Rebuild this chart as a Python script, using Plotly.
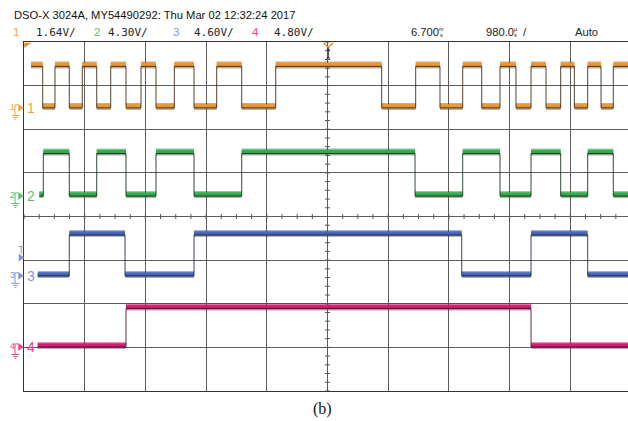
import plotly.graph_objects as go

# ---------------- data ----------------
T_CENTER_MS = 6.700        # horizontal delay (ms)
T_PER_DIV_MS = 0.980       # 980.0 us / div
ch_names = ["1", "2", "3", "4"]
volts_per_div = [1.64, 4.30, 4.60, 4.80]
ch_low_v = [0.0, 0.0, 0.0, 0.0]
ch_high_v = [1.56, 4.19, 4.32, 4.24]
ch_start_ms = [1.913, 2.047, 2.021, 2.021]
ch_start_state = [1, 0, 0, 0]
ch_end_ms = 11.60

ch1_edges_ms = [2.102, 2.300, 2.531, 2.741, 2.974, 3.200, 3.447, 3.689, 3.931,
                4.227, 4.545, 4.911, 5.315, 5.864, 7.575, 8.124, 8.516, 8.883,
                9.190, 9.485, 9.743, 9.986, 10.228, 10.465, 10.685, 10.901,
                11.116, 11.314]
ch2_edges_ms = [2.112, 2.531, 2.974, 3.447, 3.931, 4.545, 5.315, 8.113, 8.883,
                9.485, 9.986, 10.465, 10.901, 11.314]
ch3_edges_ms = [2.531, 3.431, 4.545, 8.867, 9.986, 10.901]
ch4_edges_ms = [3.447, 9.986]
trigger_level_v = 1.93     # on channel 3

header_text = "DSO-X 3024A, MY54490292: Thu Mar 02 12:32:24 2017"
vdiv_labels = ["1.64V/", "4.30V/", "4.60V/", "4.80V/"]
delay_label = "6.700"
timebase_label = "980.0"
mode_label = "Auto"
caption = "(b)"

# ---------------- style / layout ----------------
ch_offset_div = [2.49, 0.47, -1.36, -2.99]   # ground reference positions
band_colors = ["#F0952A", "#2FAF4B", "#4568BE", "#DD1A78"]
edge_colors = ["#3a2208", "#0e2d12", "#1a2545", "#480b26"]
label_colors = ["#F5A23E", "#5DBE6B", "#8196D1", "#EE3F8D"]

W, H = 628, 421
ML, MR, MT, MB = 24, 0, 42, 30
PW, PH = W - ML - MR, H - MT - MB
X_DIV_PX = 60.7
x_left = T_CENTER_MS - 5 * T_PER_DIV_MS
x_right = x_left + PW / X_DIV_PX * T_PER_DIV_MS
Y_DIV_PX = PH / 8.0


def xp(px):
    return (px - ML) / PW


def yp(py):
    return (H - MB - py) / PH


def div_to_py(d):
    return MT + (4 - d) * Y_DIV_PX


edges_all = [ch1_edges_ms, ch2_edges_ms, ch3_edges_ms, ch4_edges_ms]

fig = go.Figure()

for i in range(4):
    lo = ch_offset_div[i] + ch_low_v[i] / volts_per_div[i]
    hi = ch_offset_div[i] + ch_high_v[i] / volts_per_div[i]
    bounds = [ch_start_ms[i]] + edges_all[i] + [ch_end_ms]
    state = ch_start_state[i]
    bx, by = [], []
    sx, sy = [bounds[0]], [hi if state else lo]
    shift = 1.4 / Y_DIV_PX
    for k in range(len(bounds) - 1):
        lvl = hi if state else lo
        bx += [bounds[k], bounds[k + 1], None]
        by += [lvl + shift, lvl + shift, None]
        sx += [bounds[k + 1]]
        sy += [lvl]
        if k < len(bounds) - 2:
            state = 1 - state
            sx += [bounds[k + 1]]
            sy += [hi if state else lo]
    fig.add_trace(go.Scatter(x=bx, y=by, mode="lines",
                             line=dict(color=edge_colors[i], width=7),
                             opacity=0.35, hoverinfo="skip", showlegend=False))
    fig.add_trace(go.Scatter(x=bx, y=by, mode="lines",
                             line=dict(color=band_colors[i], width=4.5),
                             hoverinfo="skip", showlegend=False))
    fig.add_trace(go.Scatter(x=sx, y=sy, mode="lines",
                             line=dict(color=edge_colors[i], width=1),
                             opacity=0.85, hoverinfo="skip", showlegend=False))

shapes = []
# center-line minor ticks
for k in range(-20, 21):
    yv = k / 5.0
    shapes.append(dict(type="line", xref="x", yref="y",
                       x0=T_CENTER_MS - 2.5 / X_DIV_PX * T_PER_DIV_MS,
                       x1=T_CENTER_MS + 2.5 / X_DIV_PX * T_PER_DIV_MS,
                       y0=yv, y1=yv, line=dict(color="#555555", width=1)))
for k in range(0, 41):
    xv = x_left + k * T_PER_DIV_MS / 4.0
    shapes.append(dict(type="line", xref="x", yref="y", x0=xv, x1=xv,
                       y0=-2.5 / Y_DIV_PX, y1=2.5 / Y_DIV_PX,
                       line=dict(color="#555555", width=1)))

annotations = []


def ann(text, px, py, size, color, family="Liberation Sans", xanchor="left",
        yanchor="middle"):
    annotations.append(dict(text=text, x=xp(px), y=yp(py), xref="paper",
                            yref="paper", showarrow=False, xanchor=xanchor,
                            yanchor=yanchor,
                            font=dict(size=size, color=color, family=family)))


def pline(x0, y0, x1, y1, color, width=1):
    shapes.append(dict(type="line", xref="paper", yref="paper",
                       x0=xp(x0), y0=yp(y0), x1=xp(x1), y1=yp(y1),
                       line=dict(color=color, width=width)))


def ppath(pts, color):
    d = "M " + " L ".join(f"{xp(a):.5f},{yp(b):.5f}" for a, b in pts) + " Z"
    shapes.append(dict(type="path", xref="paper", yref="paper", path=d,
                       fillcolor=color, line=dict(color=color, width=0.5)))


# channel ground markers
for i in range(4):
    gy = div_to_py(ch_offset_div[i])
    c = label_colors[i]
    ann(ch_names[i], 12.3, gy - 1, 9, c, xanchor="center")
    pline(15, gy - 3, 15, gy + 7, c)
    pline(15, gy - 3, 18, gy - 3, c)
    ppath([(18.5, gy - 3.5), (23.5, gy), (18.5, gy + 3.5)], c)
    pline(11.5, gy + 7.5, 19.5, gy + 7.5, c)
    pline(13.2, gy + 9.5, 17.8, gy + 9.5, c)
    pline(14.6, gy + 11.5, 16.4, gy + 11.5, c)
    ann(ch_names[i], 31, gy, 14, c, xanchor="center")

# trigger level marker on ch3
ty = div_to_py(ch_offset_div[2] + trigger_level_v / volts_per_div[2])
ann("T", 20.5, ty - 7.5, 10, label_colors[2], xanchor="center")
ppath([(19, ty - 3.5), (24, ty), (19, ty + 3.5)], label_colors[2])

# top markers
ppath([(24.5, 43), (30.5, 43), (24.5, 47.5)], "#F08A1E")
shapes.append(dict(type="path", xref="paper", yref="paper",
                   path=f"M {xp(323.5)},{yp(42.8)} L {xp(328.3)},{yp(47.5)} L {xp(333)},{yp(42.8)}",
                   line=dict(color="#F08A1E", width=1.5)))
pline(328.3, 47.5, 328.3, 58, "#333333")
pline(326.5, 50, 330.2, 50, "#333333")
pline(326.5, 58, 330.2, 58, "#333333")

# header
ann(header_text, 12, 15, 11.2, "#111111")
v_pos = [(15.7, 35), (97, 107), (176, 193), (255, 273)]
for i in range(4):
    ann(ch_names[i], v_pos[i][0], 32, 11.5, label_colors[i], xanchor="center")
    ann(vdiv_labels[i], v_pos[i][1] - 1, 32, 11, "#222222",
        family="DejaVu Sans Mono")
ann(delay_label, 409, 32, 11.2, "#222222")
ann("m", 441.5, 29, 5.5, "#222222", xanchor="center")
ann("s", 441.5, 35, 5.5, "#222222", xanchor="center")
ann(timebase_label, 484, 32, 11.2, "#222222")
ann("\u00b5", 515.8, 29, 5.5, "#222222", xanchor="center")
ann("s", 515.8, 35, 5.5, "#222222", xanchor="center")
ann("/", 521, 32, 11.2, "#222222")
ann(mode_label, 573, 32, 11.2, "#222222")

# caption
annotations.append(dict(text=caption, x=xp(322), y=yp(409), xref="paper",
                        yref="paper", showarrow=False, xanchor="center",
                        yanchor="middle",
                        font=dict(size=16, color="#111111",
                                  family="Liberation Serif")))

fig.update_layout(
    width=W, height=H,
    margin=dict(l=ML, r=MR, t=MT, b=MB, pad=0),
    paper_bgcolor="white", plot_bgcolor="white",
    showlegend=False,
    shapes=shapes,
    annotations=annotations,
    xaxis=dict(range=[x_left, x_right], tick0=x_left, dtick=T_PER_DIV_MS,
               showgrid=True, gridcolor="#5c5c5c", gridwidth=1,
               showticklabels=False, ticks="", zeroline=False,
               showline=True, linecolor="#333333", linewidth=1, mirror=True),
    yaxis=dict(range=[-4, 4], tick0=-4, dtick=1,
               showgrid=True, gridcolor="#5c5c5c", gridwidth=1,
               showticklabels=False, ticks="", zeroline=False,
               showline=True, linecolor="#333333", linewidth=1, mirror=False),
)

fig.write_html("out.html", config={"displayModeBar": False},
               post_script="document.body.style.margin='0';"
                           "document.body.style.overflow='hidden';")
